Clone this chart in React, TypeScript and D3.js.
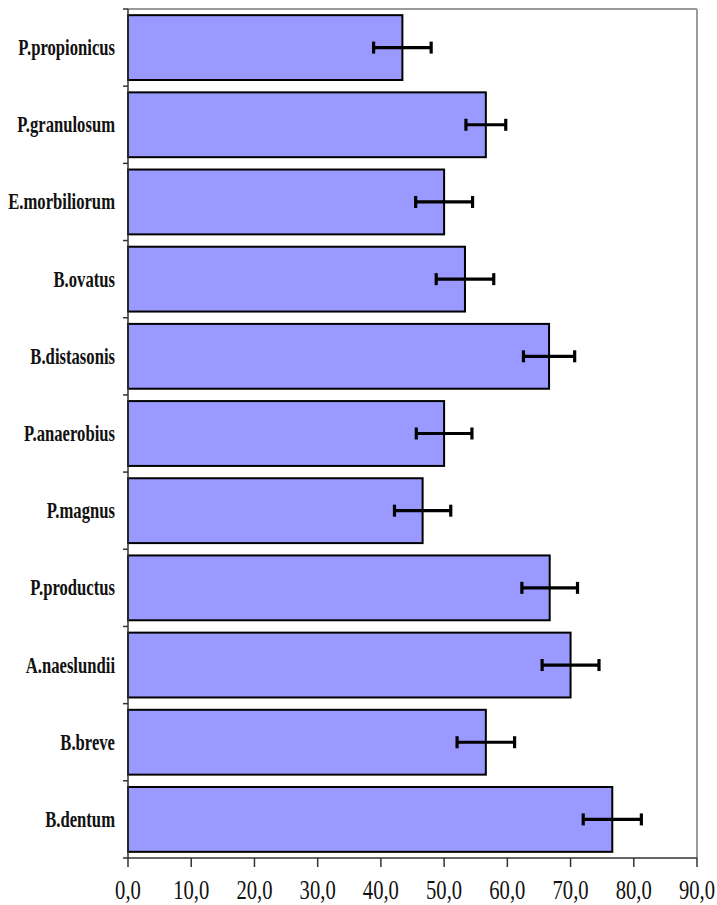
import React from "react";
import * as d3 from "d3";

const categories = [
  "P.propionicus",
  "P.granulosum",
  "E.morbiliorum",
  "B.ovatus",
  "B.distasonis",
  "P.anaerobius",
  "P.magnus",
  "P.productus",
  "A.naeslundii",
  "B.breve",
  "B.dentum",
];
const values = [43.4, 56.6, 50.0, 53.3, 66.6, 50.0, 46.6, 66.7, 70.0, 56.6, 76.6];
const errors = [4.55, 3.15, 4.5, 4.55, 4.05, 4.4, 4.45, 4.4, 4.5, 4.55, 4.6];
const xTicks = [0, 10, 20, 30, 40, 50, 60, 70, 80, 90];
const xTickLabels = ["0,0", "10,0", "20,0", "30,0", "40,0", "50,0", "60,0", "70,0", "80,0", "90,0"];

const W = 717;
const H = 905;
const left = 128;
const right = 697;
const top = 9;
const bottom = 858;

export default function App() {
  const x = d3.scaleLinear().domain([0, 90]).range([left, right]);
  const y = d3.scaleBand<string>().domain(categories).range([top, bottom]).paddingInner(0.16).paddingOuter(0.08);
  const boundaries = d3.range(categories.length + 1).map((i) => top + i * ((bottom - top) / categories.length));
  const font = "'Liberation Serif', 'Times New Roman', serif";
  return (
    <svg
      width={W}
      height={H}
      style={{ position: "absolute", left: 0, top: 0, background: "#fff" }}
    >
      {/* frame top/right */}
      <line x1={left} y1={top} x2={right} y2={top} stroke="#9a9a9a" strokeWidth={2} />
      <line x1={right} y1={top} x2={right} y2={bottom} stroke="#9a9a9a" strokeWidth={2} />
      {/* bars */}
      {categories.map((c, i) => (
        <rect
          key={c}
          x={x(0)}
          y={y(c)!}
          width={x(values[i]) - x(0)}
          height={y.bandwidth()}
          fill="#9999FF"
          stroke="#000"
          strokeWidth={2}
        />
      ))}
      {/* error bars */}
      {categories.map((c, i) => {
        const cy = y(c)! + y.bandwidth() / 2;
        const x1 = x(values[i] - errors[i]);
        const x2 = x(values[i] + errors[i]);
        return (
          <g key={"e" + c} stroke="#000" strokeWidth={3.2}>
            <line x1={x1} y1={cy} x2={x2} y2={cy} />
            <line x1={x1} y1={cy - 6} x2={x1} y2={cy + 6} />
            <line x1={x2} y1={cy - 6} x2={x2} y2={cy + 6} />
          </g>
        );
      })}
      {/* y axis */}
      <line x1={left} y1={top} x2={left} y2={bottom} stroke="#333" strokeWidth={1.5} />
      {boundaries.map((b, i) => (
        <line key={"yt" + i} x1={left - 5} y1={b} x2={left} y2={b} stroke="#333" strokeWidth={1.5} />
      ))}
      {categories.map((c) => {
        const cy = y(c)! + y.bandwidth() / 2;
        return (
          <text
            key={"yl" + c}
            transform={`translate(115,${cy + 7.5}) scale(0.74,1)`}
            textAnchor="end"
            fontFamily={font}
            fontWeight="bold"
            fontSize={22.5}
            fill="#111"
          >
            {c}
          </text>
        );
      })}
      {/* x axis */}
      <line x1={left} y1={bottom} x2={right} y2={bottom} stroke="#333" strokeWidth={1.5} />
      {xTicks.map((t, i) => (
        <g key={"xt" + t}>
          <line x1={x(t)} y1={bottom} x2={x(t)} y2={bottom + 9} stroke="#333" strokeWidth={1.5} />
          <text
            transform={`translate(${x(t)},${bottom + 40.5}) scale(0.75,1)`}
            textAnchor="middle"
            fontFamily={font}
            fontSize={27.5}
            fill="#111"
          >
            {xTickLabels[i]}
          </text>
        </g>
      ))}
    </svg>
  );
}
